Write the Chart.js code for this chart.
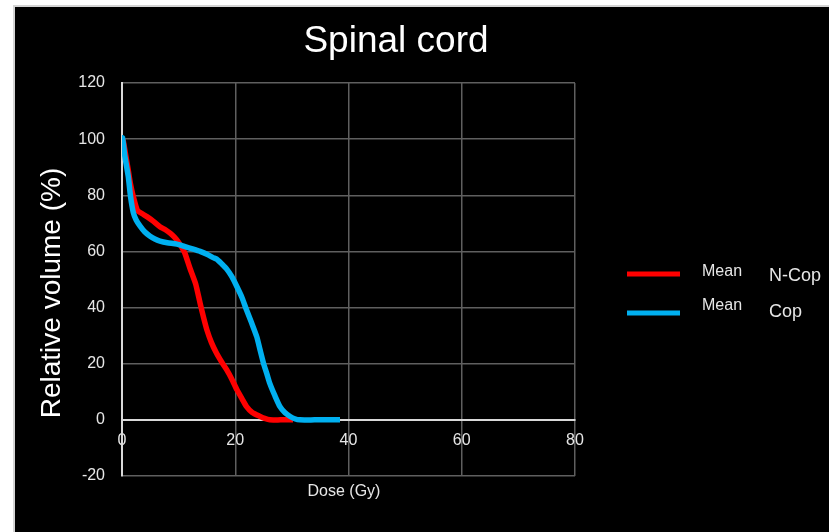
<!DOCTYPE html>
<html>
<head>
<meta charset="utf-8">
<script src="https://cdn.jsdelivr.net/npm/chart.js@4/dist/chart.umd.min.js"></script>
<style>
  html, body { margin: 0; padding: 0; background: #ffffff; }
  #frame {
    position: absolute; left: 13px; top: 5px; width: 816px; height: 527px;
    border-left: 2px solid #d4d4d4; border-top: 2px solid #d4d4d4;
    background: #000000;
  }
  #doseChart { position: absolute; left: 0; top: 0; }
</style>
</head>
<body>
<div id="frame"></div>
<canvas id="doseChart" width="829" height="532"></canvas>
<script>
// DVH curves: dose (Gy) vs relative volume (%)
var ncopDose = [0, 0.2, 0.6, 1.1, 1.5, 2.0, 2.7, 3.5, 4.4, 5.5, 6.7, 7.6, 8.5, 9.3, 9.9, 10.5, 11.1, 12.0, 13.0, 13.8, 14.4, 15.0, 15.8, 16.7, 17.6, 18.5, 19.4, 20.3, 21.2, 22.0, 23.0, 24.4, 25.2, 26.1, 28.0, 30.2];
var ncopVol  = [100, 99.6, 95, 89, 84, 79.5, 74.7, 73.5, 72.4, 70.8, 68.8, 67.8, 66.5, 65.0, 63.5, 61.6, 59.4, 54, 48.5, 41.5, 36.5, 32, 27.5, 23.7, 20.6, 17.8, 14.5, 10.7, 7.5, 4.7, 2.6, 1.2, 0.5, 0, 0, 0];

var copDose = [0, 0.1, 0.5, 1.1, 1.5, 2.0, 2.5, 3.2, 4.0, 4.9, 5.8, 6.7, 8.0, 9.7, 11.0, 12.6, 13.8, 15.0, 16.1, 16.7, 17.6, 18.5, 19.4, 20.3, 21.2, 22.0, 22.9, 23.8, 24.4, 25.0, 25.6, 26.1, 27.0, 27.9, 28.8, 29.7, 30.5, 31.4, 34.0, 38.5];
var copVol  = [96, 100.5, 94, 86.8, 79.7, 73.8, 71.2, 69, 67.0, 65.5, 64.4, 63.7, 63.1, 62.6, 61.8, 60.8, 60.0, 59, 57.8, 57.3, 55.6, 53.7, 51.0, 47.4, 43.5, 39.1, 34.5, 29.6, 24.8, 20.1, 16.3, 13, 8.6, 4.7, 2.5, 1.2, 0.4, 0, 0, 0];

var seriesNames = ["N-Cop", "Cop"];
var seriesColors = ["#ff0000", "#00b0f0"];
var xTicks = [0, 20, 40, 60, 80];
var yTicks = [-20, 0, 20, 40, 60, 80, 100, 120];

var fontFamily = '"Liberation Sans", Arial, sans-serif';

function toPoints(xs, ys) {
    var pts = [];
    for (var i = 0; i < xs.length; i++) pts.push({ x: xs[i], y: ys[i] });
    return pts;
}

// titles and the legend are drawn by hand so they sit where the original has them
var decorations = {
    id: "decorations",
    afterDraw: function (chart) {
        var ctx = chart.ctx;
        ctx.save();
        ctx.fillStyle = "#ffffff";
        ctx.textBaseline = "middle";

        ctx.textAlign = "center";
        ctx.font = "37px " + fontFamily;
        ctx.fillText("Spinal cord", 396, 42);

        ctx.font = "16px " + fontFamily;
        ctx.fillStyle = "#e6e6e6";
        ctx.fillText("Dose (Gy)", 344, 492);

        ctx.save();
        ctx.translate(52, 293);
        ctx.rotate(-Math.PI / 2);
        ctx.font = "28px " + fontFamily;
        ctx.fillStyle = "#ffffff";
        ctx.fillText("Relative volume (%)", 0, 0);
        ctx.restore();

        // legend
        var rows = [274, 313];
        chart.data.datasets.forEach(function (ds, i) {
            var y = rows[i];
            ctx.strokeStyle = ds.borderColor;
            ctx.lineWidth = 5;
            ctx.beginPath();
            ctx.moveTo(627, y);
            ctx.lineTo(680, y);
            ctx.stroke();
            ctx.textAlign = "left";
            ctx.fillStyle = "#e6e6e6";
            ctx.font = "16px " + fontFamily;
            ctx.fillText("Mean", 702, y - (i === 0 ? 2 : 7));
            ctx.font = "18px " + fontFamily;
            ctx.fillText(seriesNames[i], 769, y + (i === 0 ? 2 : -1));
        });
        ctx.restore();
    }
};

var ctx = document.getElementById("doseChart").getContext("2d");
new Chart(ctx, {
    type: "scatter",
    data: {
        datasets: [
            {
                label: "Mean " + seriesNames[0],
                data: toPoints(ncopDose, ncopVol),
                borderColor: seriesColors[0],
                backgroundColor: seriesColors[0],
                showLine: true,
                borderWidth: 5.5,
                pointRadius: 0,
                tension: 0.2,
                order: 1
            },
            {
                label: "Mean " + seriesNames[1],
                data: toPoints(copDose, copVol),
                borderColor: seriesColors[1],
                backgroundColor: seriesColors[1],
                showLine: true,
                borderWidth: 5.5,
                pointRadius: 0,
                tension: 0.2,
                order: 0
            }
        ]
    },
    options: {
        responsive: false,
        animation: false,
        layout: { padding: { top: 83, right: 254, bottom: 56, left: 0 } },
        plugins: {
            legend: { display: false },
            title: { display: false },
            tooltip: { enabled: false }
        },
        scales: {
            x: {
                type: "linear",
                position: { y: 0 },
                min: 0,
                max: 80,
                afterBuildTicks: function (scale) {
                    scale.ticks = xTicks.map(function (v) { return { value: v }; });
                },
                grid: {
                    color: "#5f5f5f",
                    lineWidth: 1.5,
                    drawTicks: false
                },
                border: { color: "#d9d9d9", width: 2 },
                ticks: {
                    color: "#e6e6e6",
                    padding: 11,
                    font: { size: 16, family: fontFamily }
                }
            },
            y: {
                type: "linear",
                min: -20,
                max: 120,
                afterBuildTicks: function (scale) {
                    scale.ticks = yTicks.map(function (v) { return { value: v }; });
                },
                afterFit: function (scale) { scale.width = 122; },
                grid: {
                    color: "#5f5f5f",
                    lineWidth: 1.5,
                    drawTicks: false
                },
                border: { color: "#d9d9d9", width: 2 },
                ticks: {
                    color: "#e6e6e6",
                    padding: 17,
                    font: { size: 16, family: fontFamily }
                }
            }
        }
    },
    plugins: [decorations]
});
</script>
</body>
</html>
